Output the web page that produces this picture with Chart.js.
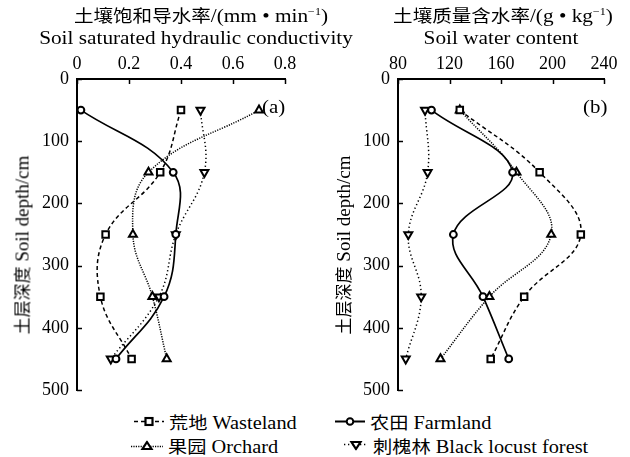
<!DOCTYPE html>
<html>
<head>
<meta charset="utf-8">
<script src="https://cdn.jsdelivr.net/npm/chart.js@4.4.1/dist/chart.umd.min.js"></script>
<style>
  body { margin: 0; background: #fff; }
  #wrap { position: relative; width: 630px; height: 457px; overflow: hidden; background: #fff;
          font-family: 'Liberation Serif', 'Times New Roman', serif; color: #000; }
  canvas { position: absolute; top: 0; }
  .txt { position: absolute; white-space: nowrap; font-size: 18.5px; line-height: 1; }
  .cn { font-family: 'Noto Sans CJK SC', sans-serif; font-size: 17px; }
  .center { transform: translateX(-50%) scaleX(1.15); }
  .stretch { transform: scaleX(1.13); transform-origin: 0 50%; display: inline-block; }
  .ytitle { transform: translate(-50%, -50%) rotate(-90deg); font-size: 19px; }
  .leg { position: absolute; display: flex; align-items: center; font-size: 18px; white-space: nowrap; transform: translateY(-50%); }
  .leg svg { margin-right: 5px; }
  sup { font-size: 10.5px; vertical-align: 7px; }
</style>
</head>
<body>
<div id="wrap">
  <canvas id="chartA" width="320" height="400" style="left:0"></canvas>
  <canvas id="chartB" width="310" height="400" style="left:320px"></canvas>

  <div class="txt center" style="left:201px; top:6px"><span class="cn">土壤饱和导水率</span>/(mm • min<sup>−1</sup>)</div>
  <div class="txt center" style="left:196px; top:29px">Soil saturated hydraulic conductivity</div>
  <div class="txt center" style="left:503px; top:6px"><span class="cn">土壤质量含水率</span>/(g • kg<sup>−1</sup>)</div>
  <div class="txt center" style="left:501px; top:29px">Soil water content</div>

  <div class="txt" style="left:262px; top:98px"><span class="stretch">(a)</span></div>
  <div class="txt" style="left:583px; top:98px"><span class="stretch">(b)</span></div>

  <div class="txt ytitle" style="left:22px; top:245px"><span class="cn">土层深度</span> Soil depth/cm</div>
  <div class="txt ytitle" style="left:343px; top:245px"><span class="cn">土层深度</span> Soil depth/cm</div>

  <div class="leg" style="left:134px; top:421px">
    <svg width="30" height="10"><line x1="0" y1="5" x2="30" y2="5" stroke="#000" stroke-width="1.6" stroke-dasharray="4,3"/><rect x="11.5" y="1.5" width="7" height="7" fill="#fff" stroke="#000" stroke-width="2.2"/></svg>
    <span class="stretch"><span class="cn">荒地</span>&nbsp;Wasteland</span></div>
  <div class="leg" style="left:335px; top:421px">
    <svg width="30" height="10"><line x1="0" y1="5" x2="30" y2="5" stroke="#000" stroke-width="1.8"/><circle cx="15" cy="5" r="3.3" fill="#fff" stroke="#000" stroke-width="2"/></svg>
    <span class="stretch"><span class="cn">农田</span>&nbsp;Farmland</span></div>
  <div class="leg" style="left:131px; top:445px">
    <svg width="32" height="10"><line x1="0" y1="6" x2="32" y2="6" stroke="#000" stroke-width="1.4" stroke-dasharray="1.2,1.2"/><polygon points="16,1.5 20.5,8.5 11.5,8.5" fill="#fff" stroke="#000" stroke-width="2.2"/></svg>
    <span class="stretch"><span class="cn">果园</span>&nbsp;Orchard</span></div>
  <div class="leg" style="left:344px; top:445px">
    <svg width="24" height="10"><line x1="0" y1="4" x2="24" y2="4" stroke="#000" stroke-width="1.4" stroke-dasharray="1.3,2.7"/><polygon points="12,8.5 16.5,1.5 7.5,1.5" fill="#fff" stroke="#000" stroke-width="2.2"/></svg>
    <span class="stretch"><span class="cn">刺槐林</span>&nbsp;Black locust forest</span></div>
</div>

<script>
// soil depth (cm) of each sampling layer
const depths = [50, 150, 250, 350, 450];
const depthTicks = [0, 100, 200, 300, 400, 500];

// (a) saturated hydraulic conductivity, mm/min
const kWasteland = [0.40, 0.32, 0.11, 0.09, 0.21];
const kFarmland  = [0.015, 0.37, 0.38, 0.335, 0.15];
const kOrchard   = [0.70, 0.275, 0.215, 0.29, 0.345];
const kLocust    = [0.475, 0.49, 0.38, 0.315, 0.13];

// (b) soil water content, g/kg
const wWasteland = [128, 190, 222, 178, 152];
const wFarmland  = [106, 169, 123, 146, 166];
const wOrchard   = [128, 172, 199, 151, 113];
const wLocust    = [101, 103, 88, 98, 86];

const FONT = "'Liberation Serif', 'Times New Roman', serif";

// short ticks pointing into the plot, like the original figure
const innerTicks = {
    id: 'innerTicks',
    afterDraw(chart) {
        const { ctx, chartArea, scales } = chart;
        ctx.save();
        ctx.strokeStyle = '#000';
        ctx.lineWidth = 1.5;
        scales.x.ticks.forEach(t => {
            const px = Math.round(scales.x.getPixelForValue(t.value)) + 0.5;
            ctx.beginPath();
            ctx.moveTo(px, chartArea.top);
            ctx.lineTo(px, chartArea.top + 5);
            ctx.stroke();
        });
        scales.y.ticks.forEach(t => {
            const py = Math.round(scales.y.getPixelForValue(t.value)) + 0.5;
            ctx.beginPath();
            ctx.moveTo(chartArea.left, py);
            ctx.lineTo(chartArea.left + 5, py);
            ctx.stroke();
        });
        ctx.restore();
    }
};

function series(xs, style) {
    return Object.assign({
        data: xs.map((v, i) => ({ x: v, y: depths[i] })),
        borderColor: '#000',
        borderWidth: 1.5,
        tension: 0.4,
        fill: false,
        pointBackgroundColor: '#fff',
        pointBorderColor: '#000',
        pointBorderWidth: 2,
        pointRadius: 4
    }, style);
}

function datasets(w, f, o, l) {
    return [
        series(w, { label: '荒地 Wasteland', borderDash: [4, 3], pointStyle: 'rect', pointRadius: 4.6 }),
        series(f, { label: '农田 Farmland', pointStyle: 'circle', pointRadius: 3.4, borderWidth: 1.7 }),
        series(o, { label: '果园 Orchard', borderDash: [1.2, 1.3], pointStyle: 'triangle', pointRadius: 4.6 }),
        series(l, { label: '刺槐林 Black locust forest', borderDash: [1.3, 2.7], pointStyle: 'triangle', pointRotation: 180, pointRadius: 4.6 })
    ];
}

function makeChart(id, sets, xMin, xMax, xStep, yWidth, padRight) {
    new Chart(document.getElementById(id), {
        type: 'line',
        data: { datasets: sets },
        options: {
            responsive: false,
            animation: false,
            devicePixelRatio: 1,
            indexAxis: 'y',
            layout: { padding: { left: 0, top: 0, right: padRight, bottom: 10 } },
            plugins: { legend: { display: false }, tooltip: { enabled: false } },
            scales: {
                x: {
                    type: 'linear',
                    position: 'top',
                    min: xMin, max: xMax,
                    ticks: { stepSize: xStep, color: '#000', padding: 4, font: { family: FONT, size: 18 },
                             maxRotation: 0, autoSkip: false },
                    grid: { display: true, drawOnChartArea: false, drawTicks: false },
                    border: { display: true, color: '#000', width: 2 },
                    afterFit(s) { s.height = 79; s.paddingLeft = 0; s.paddingRight = 0; }
                },
                y: {
                    type: 'linear',
                    reverse: true,
                    min: 0, max: 500,
                    afterBuildTicks(s) { s.ticks = depthTicks.map(v => ({ value: v })); },
                    ticks: { color: '#000', padding: 8, font: { family: FONT, size: 18 } },
                    grid: { display: true, drawOnChartArea: false, drawTicks: false },
                    border: { display: true, color: '#000', width: 2 },
                    afterFit(s) { s.width = yWidth; s.paddingTop = 0; s.paddingBottom = 0; }
                }
            }
        },
        plugins: [innerTicks]
    });
}

makeChart('chartA', datasets(kWasteland, kFarmland, kOrchard, kLocust), 0, 0.8, 0.2, 77, 35);
makeChart('chartB', datasets(wWasteland, wFarmland, wOrchard, wLocust), 80, 240, 40, 78, 26);
</script>
</body>
</html>
